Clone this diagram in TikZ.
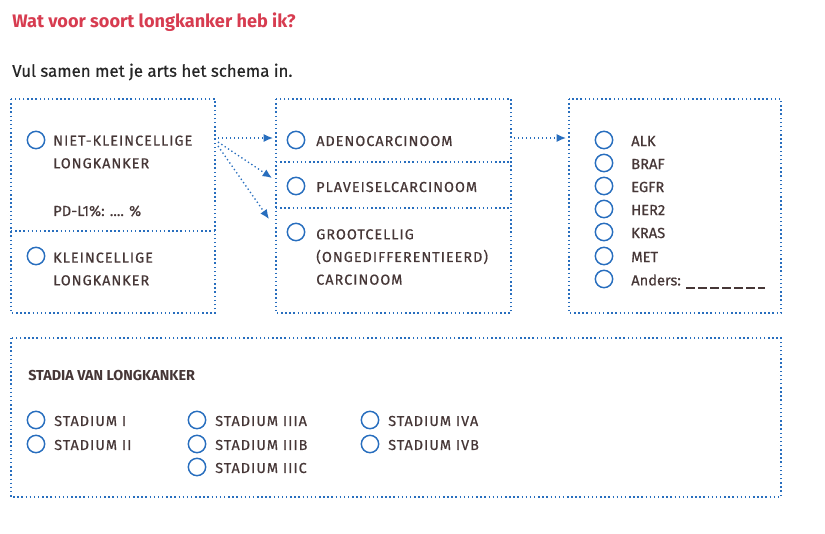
\documentclass[tikz,border=0pt]{standalone}
\usepackage{fontspec}
\setmainfont{Fira Sans}
\newfontfamily\spaced[LetterSpace=7,FakeBold=0.6]{Fira Sans}
\newfontfamily\plainb[FakeBold=0.6]{Fira Sans}
\usetikzlibrary{arrows.meta}
\definecolor{bl}{RGB}{40,110,190}
\definecolor{tx}{RGB}{70,55,55}
\definecolor{rd}{RGB}{215,60,80}
\tikzset{
 box/.style={draw=bl,line width=1.1pt,dotted},
 rb/.style={draw=bl,line width=1.1pt,circle,minimum size=13pt,inner sep=0pt},
 lab/.style={anchor=west,text=tx,font=\spaced\fontsize{10.8}{17}\selectfont,align=left,inner sep=0pt},
 lab2/.style={anchor=west,text=tx,font=\plainb\fontsize{11}{13}\selectfont,inner sep=0pt},
 arr/.style={draw=bl,line width=1pt,dotted,-{Latex[length=7pt,width=6pt]}},
}
\begin{document}
\begin{tikzpicture}[x=0.75pt,y=-0.75pt]
\useasboundingbox (0,0) rectangle (825,533);
\node[anchor=west,text=rd,font=\bfseries\fontsize{13.6}{16}\selectfont,inner sep=0pt] (t) at (12,22) {Wat voor soort longkanker heb ik?};
\node[anchor=west,text=black!85,font=\plainb\fontsize{12.6}{15}\selectfont,inner sep=0pt] (s) at (12,72) {Vul samen met je arts het schema in.};
% boxes
\draw[box] (11,99) rectangle (215,313);
\draw[box] (11,231) -- (215,231);
\draw[box] (276,99) rectangle (511,313);
\draw[box] (276,162) -- (511,162);
\draw[box] (276,208) -- (511,208);
\draw[box] (569,99) rectangle (781,313);
\draw[box] (11,338) rectangle (781,497);
% box1
\node[rb] (c1) at (36,140) {};
\node[lab] (l1) at (53,152) {NIET-KLEINCELLIGE\\LONGKANKER};
\node[lab2] (pd) at (53,211) {PD-L1\%: .... \%};
\node[rb] (c2) at (36,256) {};
\node[lab] (l2) at (53,269) {KLEINCELLIGE\\LONGKANKER};
% box2
\node[rb] (c3) at (296,140) {};
\node[lab] (l3) at (316,141) {ADENOCARCINOOM};
\node[rb] (c4) at (296,186) {};
\node[lab] (l4) at (316,187) {PLAVEISELCARCINOOM};
\node[rb] (c5) at (296,232) {};
\node[lab] (l5) at (316,257) {GROOTCELLIG\\(ONGEDIFFERENTIEERD)\\CARCINOOM};
% arrows
\coordinate (a0) at (218,138);\coordinate (a1) at (273,138);
\coordinate (b0) at (218,142);\coordinate (b1) at (272,178);
\coordinate (d0) at (218,146);\coordinate (d1) at (269,219);
\coordinate (e0) at (514,138);\coordinate (e1) at (566,138);
\draw[arr] (a0) -- (a1);
\draw[arr] (b0) -- (b1);
\draw[arr] (d0) -- (d1);
\draw[arr] (e0) -- (e1);
% box3
\foreach \y/\t [count=\i] in {140/ALK,163/BRAF,186/EGFR,209/HER2,232/KRAS,256/MET,279/{Anders:}}{
 \node[rb] (m\i) at (604,\y) {};
 \node[lab2] (n\i) at (631,\y+1) {\t};
}
\draw[tx,line width=1.2pt,dash pattern=on 7pt off 2pt] (686,288) -- (765,288);
% box4
\node[anchor=west,text=tx,font=\bfseries\fontsize{10.8}{12}\selectfont,inner sep=0pt] (st) at (28,376) {STADIA VAN LONGKANKER};
\foreach \x/\y/\t [count=\i] in {36/420/STADIUM I,36/444/STADIUM II,197/420/STADIUM IIIA,197/444/STADIUM IIIB,197/467/STADIUM IIIC,370/420/STADIUM IVA,370/444/STADIUM IVB}{
 \node[rb] (s\i) at (\x,\y) {};
 \node[lab] (sl\i) at (\x+18,\y+1) {\t};
}
\end{tikzpicture}
\end{document}
